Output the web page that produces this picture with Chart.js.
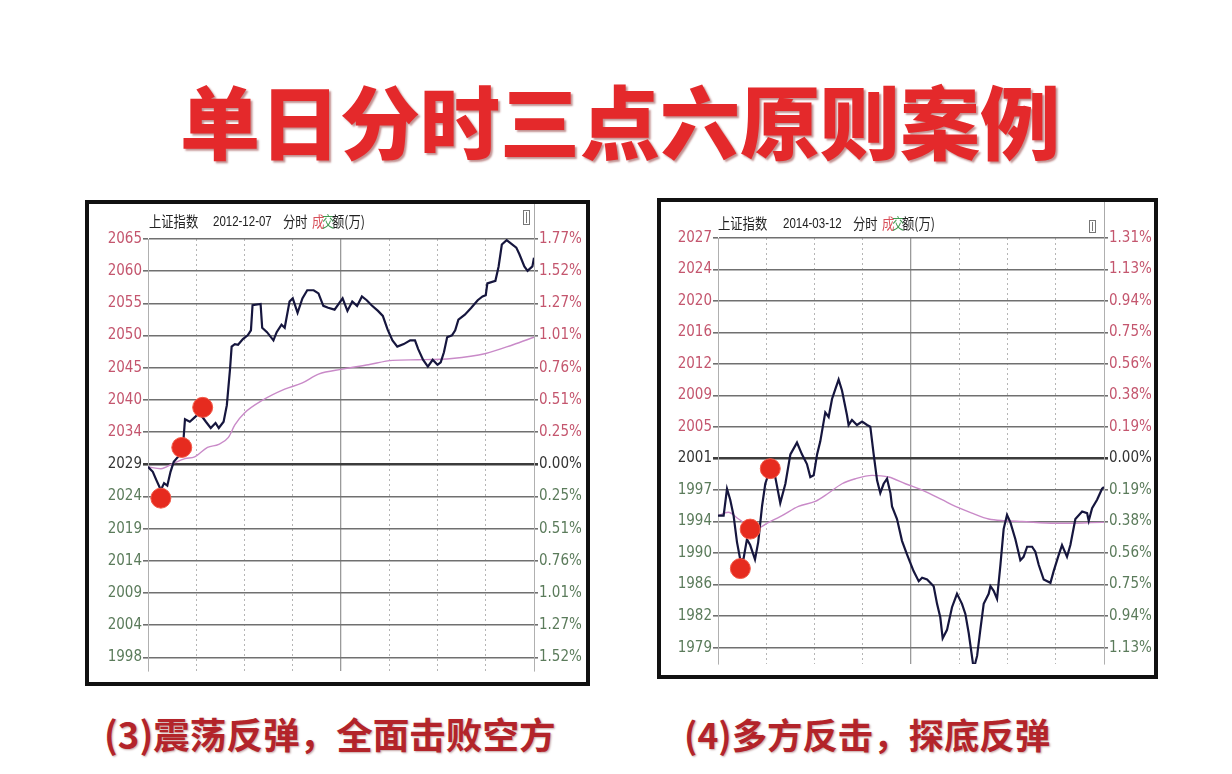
<!DOCTYPE html>
<html>
<head>
<meta charset="utf-8">
<script src="https://cdn.jsdelivr.net/npm/chart.js@4"></script>
<style>
  body { margin: 0; background: #fff; width: 1232px; height: 774px; position: relative; overflow: hidden;
         font-family: "Noto Sans CJK SC", sans-serif; }
  .title { position: absolute; left: 0; width: 1240px; top: 76px; text-align: center; font-size: 80px;
           line-height: 84px; font-weight: 900; color: #e4292b; text-shadow: 2px 2px 2px rgba(120, 10, 10, 0.45); }
  .caption { position: absolute; top: 712px; line-height: 44px; font-weight: 700; color: #b3242a;
             text-shadow: 1px 1px 2px rgba(90, 0, 0, 0.35); white-space: nowrap; }
  .frame { position: absolute; border: 4px solid #111; box-sizing: border-box; background: #fff; }
  .frame canvas { position: absolute; left: 0; top: 0; }
  .hd { position: absolute; font-size: 15px; line-height: 18px; color: #222; white-space: nowrap;
        transform: scaleX(0.82); transform-origin: left center; }
  .hd.num { font-family: "Liberation Sans", Arial, sans-serif; font-size: 14px; }
  .icon { position: absolute; border: 1px solid #777; box-sizing: border-box; }
  .icon::after { content: ""; position: absolute; left: 2px; top: 1px; bottom: 1px; border-left: 1px solid #777; }
  .edge { position: absolute; width: 1px; background: #aaa; top: 0; }
</style>
</head>
<body>
<div class="title">单日分时三点六原则案例</div>

<div class="frame" style="left:85px;top:200px;width:505px;height:486px;">
  <canvas id="leftChart" width="497" height="478" style="width:497px;height:478px;"></canvas>
  <div class="edge" style="left:445px;height:35px;"></div>
  <span class="hd" style="left:60px;top:8px;">上证指数</span>
  <span class="hd num" style="left:124px;top:8px;">2012-12-07</span>
  <span class="hd" style="left:194px;top:8px;">分时</span>
  <span class="hd" style="left:223px;top:8px;color:#d8505a;">成</span>
  <span class="hd" style="left:233px;top:8px;color:#3f9a4f;">交</span>
  <span class="hd" style="left:243px;top:8px;">额(万)</span>
  <div class="icon" style="left:434px;top:6px;width:7px;height:15px;"></div>
</div>

<div class="frame" style="left:657px;top:198px;width:501px;height:481px;">
  <canvas id="rightChart" width="493" height="473" style="width:493px;height:473px;"></canvas>
  <div class="edge" style="left:443px;height:36px;"></div>
  <span class="hd" style="left:57px;top:12px;">上证指数</span>
  <span class="hd num" style="left:122px;top:12px;">2014-03-12</span>
  <span class="hd" style="left:192px;top:12px;">分时</span>
  <span class="hd" style="left:221px;top:12px;color:#d8505a;">成</span>
  <span class="hd" style="left:231px;top:12px;color:#3f9a4f;">交</span>
  <span class="hd" style="left:241px;top:12px;">额(万)</span>
  <div class="icon" style="left:428px;top:18px;width:7px;height:13px;"></div>
</div>

<div class="caption" style="left:104px;font-size:36.6px;">(3)震荡反弹，全面击败空方</div>
<div class="caption" style="left:684px;font-size:35.4px;">(4)多方反击，探底反弹</div>

<script>
// 2012-12-07 上证指数 分时 (minute of session, index value)
const leftPriceMin = [0, 3, 5, 8, 10, 12, 14, 16, 19, 21, 22, 23, 26, 29, 32, 36, 39, 42, 44, 47,
  49, 51, 52, 54, 56, 59, 62, 64, 65, 70, 71, 74, 78, 80, 83, 85, 88, 90, 93, 96,
  99, 103, 106, 109, 112, 116, 121, 124, 127, 130, 133, 136, 139, 143, 146, 149, 152, 155, 159, 163,
  166, 168, 171, 174, 177, 180, 182, 184, 186, 189, 191, 193, 197, 201, 205, 208, 210, 211, 216, 218,
  220, 223, 225, 229, 231, 234, 236, 239, 240];
const leftPrice = [2028.9, 2028.1, 2026.9, 2025.2, 2026.3, 2025.9, 2028.1, 2029.7, 2030.6, 2031.7,
  2033.0, 2036.5, 2036.1, 2036.8, 2037.5, 2036.1, 2035.1, 2035.9, 2035.1, 2036.1,
  2038.7, 2044.5, 2048.1, 2048.5, 2048.4, 2049.3, 2049.9, 2050.7, 2054.7, 2054.9,
  2051.1, 2050.4, 2049.1, 2050.4, 2051.6, 2051.1, 2055.3, 2055.8, 2053.5, 2055.8,
  2057.1, 2057.1, 2056.6, 2054.6, 2054.3, 2054.0, 2055.8, 2053.8, 2055.3, 2054.6,
  2056.1, 2055.5, 2054.7, 2053.8, 2053.0, 2050.8, 2049.1, 2048.1, 2048.5, 2049.1,
  2049.1, 2047.7, 2046.0, 2044.9, 2046.0, 2045.2, 2045.6, 2047.2, 2049.6, 2049.9,
  2050.7, 2052.4, 2053.2, 2054.3, 2055.5, 2056.1, 2056.3, 2058.2, 2058.6, 2060.9,
  2064.4, 2065.1, 2064.7, 2063.9, 2062.8, 2060.9, 2060.2, 2060.9, 2062.3];
const leftAvgMin = [0, 8, 16, 23, 29, 37, 44, 50, 54, 60, 71, 85, 96, 106, 121, 137, 152, 168, 189, 210, 227, 240];
const leftAvg = [2028.9, 2028.6, 2029.5, 2030.2, 2030.5, 2032.0, 2032.5, 2033.6, 2035.6, 2037.5, 2039.5,
  2041.3, 2042.3, 2043.7, 2044.5, 2045.2, 2045.9, 2046.0, 2046.2, 2047.0, 2048.4, 2049.6];
const leftDotMin = [8, 21, 34];
const leftDot = [2023.9, 2032.0, 2038.4];
const leftPriceTicks = ['2065', '2060', '2055', '2050', '2045', '2040', '2034', '2029', '2024', '2019', '2014', '2009', '2004', '1998'];
const leftPctTicks = ['1.77%', '1.52%', '1.27%', '1.01%', '0.76%', '0.51%', '0.25%', '0.00%', '0.25%', '0.51%', '0.76%', '1.01%', '1.27%', '1.52%'];
const leftPrevClose = 2029.3;
const leftStep = 5.14;

// 2014-03-12 上证指数 分时
const rightPriceMin = [0, 3.5, 5.6, 7.6, 9.7, 11.8, 13.9, 15.9, 18, 20, 23, 25, 27.4, 29.4, 32.5, 35.6, 38.7, 41.9, 45, 49.1,
  52.2, 55.3, 57.4, 59.5, 61.6, 63.6, 66.7, 68.8, 70.9, 72.9, 75, 77.1, 80.2, 81.2, 83.3, 86.4, 89.6, 92.7, 94.7, 96.8,
  98.9, 100.9, 103, 105.1, 107.2, 108.2, 111.3, 114.4, 117.5, 121.6, 124.8, 126.9, 130, 134.1, 136.2, 138.2, 139.7, 142.4, 145.5, 148.6,
  151.7, 153.8, 155.9, 159, 161.1, 163.1, 165.2, 168.3, 169.4, 171.4, 173.5, 175.6, 177.6, 179.7, 181.8, 184.9, 188, 190, 192.2, 195.3,
  197.3, 199.4, 202.5, 206.7, 208.7, 211.8, 213.9, 217, 219.1, 222.2, 226.4, 229.5, 230.5, 232.6, 235.7, 238.8, 240];
const rightPrice = [1994.2, 1994.2, 1997.4, 1996.1, 1994.2, 1991.05, 1988.9, 1989.1, 1991.4, 1990.7,
  1989.0, 1991.05, 1995.35, 1998.0, 1999.8, 1998.8, 1995.7, 1998.0, 2001.5, 2002.9,
  2001.5, 2000.35, 1998.8, 1999.0, 2001.5, 2003.05, 2006.5, 2005.95, 2008.1, 2009.25,
  2010.4, 2009.1, 2006.15, 2005.0, 2005.6, 2005.0, 2005.4, 2005.0, 2004.8, 2001.5,
  1998.4, 1996.9, 1998.0, 1998.6, 1996.9, 1995.3, 1993.8, 1991.2, 1989.6, 1987.6,
  1986.4, 1986.8, 1986.6, 1985.8, 1983.7, 1982.1, 1979.6, 1980.6, 1983.3, 1984.9,
  1983.7, 1982.5, 1980.2, 1975.95, 1977.5, 1980.6, 1983.7, 1984.9, 1985.8, 1985.25,
  1984.3, 1988.35, 1992.6, 1994.3, 1993.4, 1991.4, 1988.9, 1989.3, 1990.5, 1990.5,
  1989.9, 1988.35, 1986.6, 1986.2, 1987.6, 1989.5, 1990.7, 1989.3, 1990.7, 1993.8,
  1994.7, 1994.5, 1993.6, 1995.1, 1996.1, 1997.4, 1997.6];
const rightAvgMin = [0, 6.4, 12.8, 23, 31.5, 39.8, 50, 60.5, 68.8, 77.1, 85.4, 95.8, 106.1, 116.5, 126.9,
  139.3, 147.6, 158, 168.3, 178.7, 189, 209.8, 220.1, 238.8, 240];
const rightAvg = [1994.2, 1994.6, 1993.8, 1992.6, 1993.4, 1994.2, 1995.3, 1995.9, 1996.9, 1998.0, 1998.6,
  1999.0, 1998.8, 1998.0, 1997.25, 1996.1, 1995.3, 1994.5, 1993.8, 1993.6, 1993.5, 1993.3, 1993.3, 1993.4, 1993.4];
const rightDotMin = [13.9, 20, 32.5];
const rightDot = [1987.9, 1992.6, 1999.8];
const rightPriceTicks = ['2027', '2024', '2020', '2016', '2012', '2009', '2005', '2001', '1997', '1994', '1990', '1986', '1982', '1979'];
const rightPctTicks = ['1.31%', '1.13%', '0.94%', '0.75%', '0.56%', '0.38%', '0.19%', '0.00%', '0.19%', '0.38%', '0.56%', '0.75%', '0.94%', '1.13%'];
const rightPrevClose = 2001.0;
const rightStep = 3.752;

const UP = '#c4566e', FLAT = '#333333', DOWN = '#5b7b5b';

function pts(xs, ys) {
  return xs.map((x, i) => ({ x: x, y: ys[i] }));
}

function isZero(v, prev) { return Math.abs(v - prev) < 0.01; }

function drawIntraday(id, d) {
  const tickVals = [];
  for (let k = -6; k <= 7; k++) tickVals.push(d.prev + k * d.step);
  const setTicks = s => { s.ticks = tickVals.map(v => ({ value: v })); };
  // narrow digits like the trading software; "condensed" goes into the canvas font shorthand
  const font = { family: "'Liberation Sans Narrow', 'DejaVu Sans', sans-serif", size: 15, weight: 'condensed' };
  const labelColor = c => isZero(c.tick.value, d.prev) ? FLAT : (c.tick.value > d.prev ? UP : DOWN);
  const gridColor = c => (c.tick && isZero(c.tick.value, d.prev)) ? '#3c3c3c' : '#707070';
  const gridWidth = c => (c.tick && isZero(c.tick.value, d.prev)) ? 2.6 : 1.6;
  const yMin = d.prev - d.below * d.step;
  const yMax = d.prev + 7 * d.step;

  return new Chart(document.getElementById(id), {
    type: 'line',
    data: {
      datasets: [
        { data: pts(d.dotMin, d.dot), showLine: false, pointRadius: 10, pointHoverRadius: 10,
          pointBackgroundColor: '#e62b1f', pointBorderColor: '#f25a48', pointBorderWidth: 1 },
        { data: pts(d.priceMin, d.price), borderColor: '#16163e', borderWidth: 2.2, pointRadius: 0, tension: 0 },
        { data: pts(d.avgMin, d.avg), borderColor: '#c98ac8', borderWidth: 1.4, pointRadius: 0,
          cubicInterpolationMode: 'monotone' }
      ]
    },
    options: {
      animation: false,
      responsive: false,
      events: [],
      layout: { padding: { top: d.padTop, left: 0, right: 0, bottom: 0 } },
      plugins: { legend: { display: false }, tooltip: { enabled: false } },
      scales: {
        x: {
          type: 'linear', min: 0, max: 240,
          afterBuildTicks: s => { s.ticks = [30, 60, 90, 150, 180, 210].map(v => ({ value: v })); },
          afterFit: s => { s.height = 0; },
          ticks: { display: false },
          grid: { color: '#b5b5b5', lineWidth: 1, drawTicks: false },
          border: { display: false, dash: [2, 3] }
        },
        x2: {
          type: 'linear', position: 'bottom', min: 0, max: 240,
          afterBuildTicks: s => { s.ticks = [{ value: 120 }]; },
          afterFit: s => { s.height = 0; },
          ticks: { display: false },
          grid: { color: '#9a9a9a', lineWidth: 1.3, drawTicks: false },
          border: { display: false }
        },
        y: {
          type: 'linear', position: 'left', min: yMin, max: yMax,
          afterBuildTicks: setTicks,
          afterFit: s => { s.width = d.leftW; },
          ticks: { autoSkip: false, font: font, color: labelColor, padding: 1,
                   callback: (v, i) => d.priceTicks[13 - i] },
          grid: { color: gridColor, lineWidth: gridWidth, tickLength: 5 },
          border: { color: '#b0b0b0', width: 1 }
        },
        y2: {
          type: 'linear', position: 'right', min: yMin, max: yMax,
          afterBuildTicks: setTicks,
          afterFit: s => { s.width = d.rightW; },
          ticks: { autoSkip: false, font: font, color: labelColor, padding: 1,
                   callback: (v, i) => d.pctTicks[13 - i] },
          grid: { drawOnChartArea: false, color: gridColor, lineWidth: gridWidth, tickLength: 4 },
          border: { color: '#b0b0b0', width: 1 }
        }
      }
    }
  });
}

drawIntraday('leftChart', {
  priceMin: leftPriceMin, price: leftPrice, avgMin: leftAvgMin, avg: leftAvg,
  dotMin: leftDotMin, dot: leftDot, priceTicks: leftPriceTicks, pctTicks: leftPctTicks,
  prev: leftPrevClose, step: leftStep, below: 6.42, padTop: 35, leftW: 59, rightW: 52
});

drawIntraday('rightChart', {
  priceMin: rightPriceMin, price: rightPrice, avgMin: rightAvgMin, avg: rightAvg,
  dotMin: rightDotMin, dot: rightDot, priceTicks: rightPriceTicks, pctTicks: rightPctTicks,
  prev: rightPrevClose, step: rightStep, below: 6.52, padTop: 36, leftW: 57, rightW: 50
});
</script>
</body>
</html>
